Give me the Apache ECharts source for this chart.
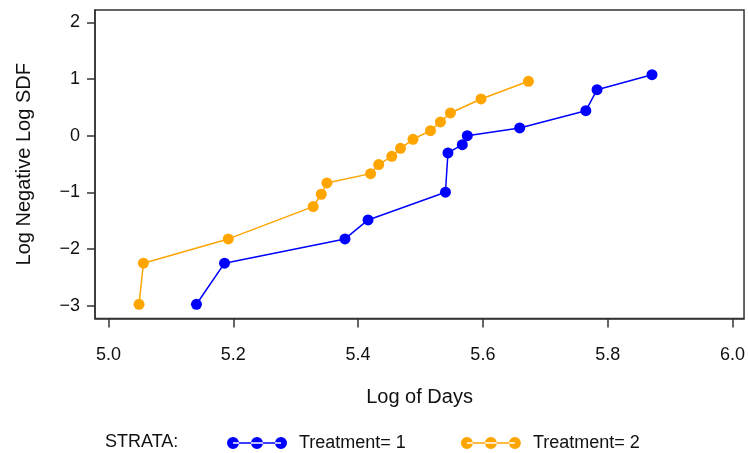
<!DOCTYPE html>
<html>
<head>
<meta charset="utf-8">
<script src="https://cdn.jsdelivr.net/npm/echarts@6/dist/echarts.min.js"></script>
<style>
  html, body { margin: 0; padding: 0; background: #ffffff; }
  #chart { width: 748px; height: 453px; }
</style>
</head>
<body>
<div id="chart"></div>
<script>
// Log-log survival estimates by treatment group
const treatment1X = [5.141, 5.186, 5.379, 5.416, 5.540, 5.544, 5.567, 5.575, 5.659, 5.765, 5.783, 5.871];
const treatment1Y = [-2.975, -2.250, -1.822, -1.487, -0.998, -0.305, -0.159, 0.000, 0.136, 0.441, 0.811, 1.076];

const treatment2X = [5.049, 5.056, 5.192, 5.328, 5.341, 5.350, 5.420, 5.433, 5.454, 5.468, 5.488, 5.516, 5.532, 5.548, 5.597, 5.673];
const treatment2Y = [-2.975, -2.250, -1.822, -1.252, -1.034, -0.834, -0.670, -0.511, -0.364, -0.223, -0.064, 0.088, 0.242, 0.400, 0.647, 0.959];

const xTicks = [5.0, 5.2, 5.4, 5.6, 5.8, 6.0];
const yTicks = [-3, -2, -1, 0, 1, 2];

const seriesNames = ['Treatment= 1', 'Treatment= 2'];
const seriesColors = ['#0000ff', '#ffa500'];

const FONT = '"Liberation Sans", Arial, sans-serif';

function pairs(xs, ys) {
  return xs.map((x, i) => [x, ys[i]]);
}

// legend glyph: three dots joined by a line
const dotsIcon = 'path://M0,6a6,6 0 1,0 12,0a6,6 0 1,0 -12,0z' +
  'M24,6a6,6 0 1,0 12,0a6,6 0 1,0 -12,0z' +
  'M48,6a6,6 0 1,0 12,0a6,6 0 1,0 -12,0z' +
  'M6,5.2h48v1.6h-48z';

const chart = echarts.init(document.getElementById('chart'), null, { renderer: 'canvas' });

chart.setOption({
  animation: false,
  backgroundColor: '#ffffff',
  textStyle: { fontFamily: FONT },
  grid: {
    left: 95, right: 2, top: 10, bottom: 134.5,
    show: true, borderColor: '#333333', borderWidth: 1.5,
    backgroundColor: 'transparent'
  },
  xAxis: {
    type: 'value',
    min: 4.9784, max: 6.0185,
    name: 'Log of Days',
    nameLocation: 'middle',
    nameGap: 69,
    nameTextStyle: { color: '#111111', fontSize: 20, fontFamily: FONT },
    axisLine: { show: true, onZero: false, lineStyle: { color: '#333333', width: 1.5 } },
    axisTick: { show: true, length: 9, customValues: xTicks, lineStyle: { color: '#333333', width: 1.5 } },
    axisLabel: {
      show: true, customValues: xTicks, margin: 28,
      color: '#111111', fontSize: 18, fontFamily: FONT,
      formatter: v => v.toFixed(1)
    },
    splitLine: { show: false }
  },
  yAxis: {
    type: 'value',
    min: -3.226, max: 2.217,
    name: 'Log Negative Log SDF',
    nameLocation: 'middle',
    nameGap: 61,
    nameTextStyle: { color: '#111111', fontSize: 20, fontFamily: FONT },
    axisLine: { show: true, onZero: false, lineStyle: { color: '#333333', width: 1.5 } },
    axisTick: { show: true, length: 8, customValues: yTicks, lineStyle: { color: '#333333', width: 1.5 } },
    axisLabel: {
      show: true, customValues: yTicks, margin: 15,
      color: '#111111', fontSize: 18, fontFamily: FONT,
      formatter: v => (v < 0 ? '\u2212' + Math.abs(v) : String(v))
    },
    splitLine: { show: false }
  },
  legend: {
    left: 222, top: 429,
    itemWidth: 60, itemHeight: 12, itemGap: 55,
    icon: dotsIcon,
    itemStyle: { borderWidth: 0 },
    textStyle: { color: '#111111', fontSize: 18, fontFamily: FONT, padding: [0, 0, 0, 7] },
    data: seriesNames
  },
  graphic: [{
    type: 'text',
    left: 105, top: 433,
    style: { text: 'STRATA:', fill: '#111111', font: '18px ' + FONT }
  }],
  series: [
    {
      name: seriesNames[0],
      type: 'line',
      data: pairs(treatment1X, treatment1Y),
      symbol: 'circle', symbolSize: 11,
      color: seriesColors[0],
      itemStyle: { color: seriesColors[0], borderWidth: 0 },
      lineStyle: { color: seriesColors[0], width: 1.5 }
    },
    {
      name: seriesNames[1],
      type: 'line',
      data: pairs(treatment2X, treatment2Y),
      symbol: 'circle', symbolSize: 11,
      color: seriesColors[1],
      itemStyle: { color: seriesColors[1], borderWidth: 0 },
      lineStyle: { color: seriesColors[1], width: 1.5 }
    }
  ]
});
</script>
</body>
</html>
